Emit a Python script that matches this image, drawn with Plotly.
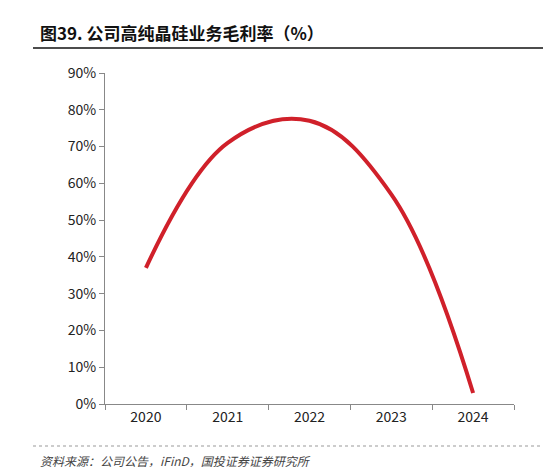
import plotly.graph_objects as go

years = ["2020", "2021", "2022", "2023", "2024"]
margin_pct = [37, 71, 77, 57, 3]
y_ticks = [0, 10, 20, 30, 40, 50, 60, 70, 80, 90]

H = 331  # plot height in px
W = 409  # plot width in px

fig = go.Figure()
fig.add_trace(go.Scatter(x=years, y=margin_pct, mode="lines",
                         line=dict(color="#d0202a", width=4, shape="spline", smoothing=1.1),
                         showlegend=False))

fig.update_layout(
    width=551, height=467,
    margin=dict(l=97, r=45, t=65, b=71, autoexpand=False),
    plot_bgcolor="white", paper_bgcolor="white",
    font=dict(family="Noto Sans CJK SC", size=14, color="#222"),
    xaxis=dict(type="category", range=[-0.5, 4.5], showline=True, linecolor="#888",
               ticks="outside", tickcolor="#888", tickson="boundaries", ticklen=5,
               tickfont=dict(size=14, color="#222"), automargin=False),
    yaxis=dict(range=[0, 90], tickvals=y_ticks, ticktext=[f"{v}%" for v in y_ticks],
               showline=True, linecolor="#888", ticks="outside", tickcolor="#888",
               ticklen=5, showgrid=False, zeroline=False, automargin=False,
               tickfont=dict(size=14, color="#222")),
    annotations=[
        dict(text="<b>图39. 公司高纯晶硅业务毛利率（%）</b>", xref="paper", yref="paper",
             x=-67/W, y=(396-24)/H, xanchor="left", yanchor="middle", showarrow=False,
             font=dict(size=17, color="#111")),
        dict(text="<i>资料来源：公司公告，iFinD，国投证券证券研究所</i>", xref="paper", yref="paper",
             x=-67/W, y=-(452-396)/H, xanchor="left", yanchor="middle", showarrow=False,
             font=dict(size=12, color="#444")),
    ],
    shapes=[
        dict(type="line", xref="paper", yref="paper", x0=-72/W, x1=(548-97)/W,
             y0=(396-40)/H, y1=(396-40)/H, line=dict(color="#111", width=1.5)),
        dict(type="line", xref="paper", yref="paper", x0=-72/W, x1=(548-97)/W,
             y0=-(438-396)/H, y1=-(438-396)/H, line=dict(color="#999", width=1, dash="dot")),
    ],
)

fig.write_html("out.html")
